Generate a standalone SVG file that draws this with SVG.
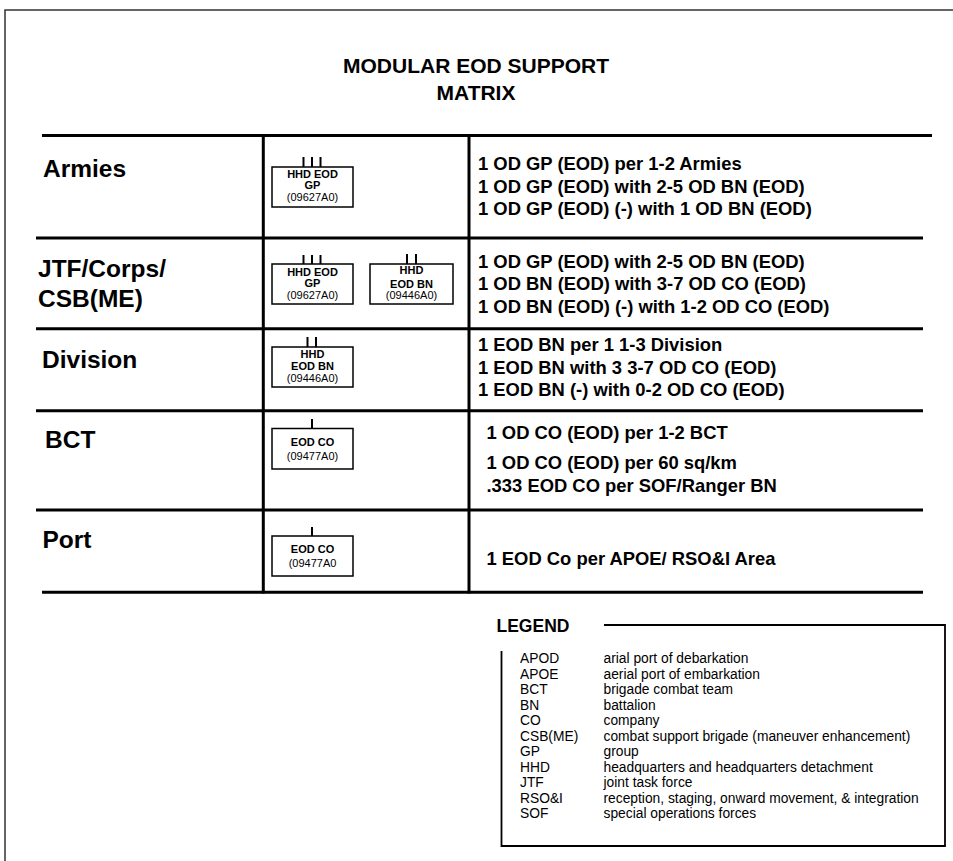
<svg xmlns="http://www.w3.org/2000/svg" width="953" height="861" viewBox="0 0 953 861">
<style>
.title{font-family:"Liberation Sans",Arial,sans-serif;font-weight:bold;font-size:21px;fill:#000;text-anchor:middle}
.row{font-family:"Liberation Sans",Arial,sans-serif;font-weight:bold;font-size:24.5px;fill:#000}
.req{font-family:"Liberation Sans",Arial,sans-serif;font-weight:bold;font-size:18.4px;fill:#000}
.bx{fill:#fff;stroke:#000;stroke-width:1.5}
.tick{stroke:#000;stroke-width:2}
.nb{font-family:"Liberation Sans",Arial,sans-serif;font-weight:bold;font-size:11px;fill:#000;text-anchor:middle}
.nr{font-family:"Liberation Sans",Arial,sans-serif;font-size:11px;fill:#000;text-anchor:middle}
.grid{stroke:#000;stroke-width:3;fill:none}
.leg{font-family:"Liberation Sans",Arial,sans-serif;font-size:13.8px;fill:#000}
.legh{font-family:"Liberation Sans",Arial,sans-serif;font-weight:bold;font-size:17.5px;fill:#000}
</style>
<rect width="953" height="861" fill="#fff"/>
<path d="M5,861 V10 H953" fill="none" stroke="#333" stroke-width="1.5"/>
<g id="title">
<text class="title" x="476" y="73">MODULAR EOD SUPPORT</text>
<text class="title" x="476" y="100">MATRIX</text>
</g>
<g id="table-lines">
<line class="grid" x1="42" y1="135.5" x2="932" y2="135.5" stroke-width="3.5"/>
<line class="grid" x1="36" y1="238" x2="923" y2="238"/>
<line class="grid" x1="36" y1="328.7" x2="923" y2="328.7"/>
<line class="grid" x1="36" y1="410.7" x2="923" y2="410.7"/>
<line class="grid" x1="36" y1="510" x2="923" y2="510"/>
<line class="grid" x1="42" y1="592.2" x2="923" y2="592.2"/>
<line class="grid" x1="263.3" y1="134" x2="263.3" y2="593.5"/>
<line class="grid" x1="469" y1="134" x2="469" y2="593.5"/>
</g>
<g id="row-armies">
<text class="row" x="43" y="177">Armies</text>
<text class="req" x="478" y="170">1 OD GP (EOD) per 1-2 Armies</text>
<text class="req" x="478" y="193">1 OD GP (EOD) with 2-5 OD BN (EOD)</text>
<text class="req" x="478" y="215">1 OD GP (EOD) (-) with 1 OD BN (EOD)</text>
</g>
<g id="node-armies-gp">
<line class="tick" x1="303.5" y1="157" x2="303.5" y2="167"/>
<line class="tick" x1="312" y1="157" x2="312" y2="167"/>
<line class="tick" x1="320.5" y1="157" x2="320.5" y2="167"/>
<rect class="bx" x="272" y="167" width="81" height="40"/>
<text class="nb" x="312.5" y="177.5">HHD EOD</text>
<text class="nb" x="312.5" y="189">GP</text>
<text class="nr" x="312.5" y="201">(09627A0)</text>
</g>
<g id="row-jtf">
<text class="row" x="38" y="277">JTF/Corps/</text>
<text class="row" x="38" y="307">CSB(ME)</text>
<text class="req" x="478" y="268">1 OD GP (EOD) with 2-5 OD BN (EOD)</text>
<text class="req" x="478" y="290">1 OD BN (EOD) with 3-7 OD CO (EOD)</text>
<text class="req" x="478" y="313">1 OD BN (EOD) (-) with 1-2 OD CO (EOD)</text>
</g>
<g id="node-jtf-gp">
<line class="tick" x1="303.5" y1="255" x2="303.5" y2="264"/>
<line class="tick" x1="312" y1="255" x2="312" y2="264"/>
<line class="tick" x1="320.5" y1="255" x2="320.5" y2="264"/>
<rect class="bx" x="272" y="264" width="81" height="40"/>
<text class="nb" x="312.5" y="275.5">HHD EOD</text>
<text class="nb" x="312.5" y="287">GP</text>
<text class="nr" x="312.5" y="298.5">(09627A0)</text>
</g>
<g id="node-jtf-bn">
<line class="tick" x1="407" y1="254" x2="407" y2="264"/>
<line class="tick" x1="416" y1="254" x2="416" y2="264"/>
<rect class="bx" x="370" y="264" width="83" height="40"/>
<text class="nb" x="411.5" y="274">HHD</text>
<text class="nb" x="411.5" y="287.5">EOD BN</text>
<text class="nr" x="411.5" y="299">(09446A0)</text>
</g>
<g id="row-division">
<text class="row" x="42" y="368">Division</text>
<text class="req" x="478" y="351">1 EOD BN per 1 1-3 Division</text>
<text class="req" x="478" y="373.5">1 EOD BN with 3 3-7 OD CO (EOD)</text>
<text class="req" x="478" y="396">1 EOD BN (-) with 0-2 OD CO (EOD)</text>
</g>
<g id="node-division-bn">
<line class="tick" x1="307.5" y1="337" x2="307.5" y2="347"/>
<line class="tick" x1="316" y1="337" x2="316" y2="347"/>
<rect class="bx" x="272" y="347" width="81" height="40"/>
<text class="nb" x="312.5" y="357.5">HHD</text>
<text class="nb" x="312.5" y="370">EOD BN</text>
<text class="nr" x="312.5" y="381.5">(09446A0)</text>
</g>
<g id="row-bct">
<text class="row" x="45" y="448">BCT</text>
<text class="req" x="486.5" y="438.5">1 OD CO (EOD) per 1-2 BCT</text>
<text class="req" x="486.5" y="468.5">1 OD CO (EOD) per 60 sq/km</text>
<text class="req" x="486.5" y="491.5">.333 EOD CO per SOF/Ranger BN</text>
</g>
<g id="node-bct-co">
<line class="tick" x1="312" y1="419" x2="312" y2="428.5"/>
<rect class="bx" x="272" y="428.5" width="81" height="40.5"/>
<text class="nb" x="312.5" y="446">EOD CO</text>
<text class="nr" x="312.5" y="460">(09477A0)</text>
</g>
<g id="row-port">
<text class="row" x="42.5" y="548">Port</text>
<text class="req" x="486.5" y="565">1 EOD Co per APOE/ RSO&amp;I Area</text>
</g>
<g id="node-port-co">
<line class="tick" x1="312" y1="527" x2="312" y2="536"/>
<rect class="bx" x="272" y="536" width="81" height="40"/>
<text class="nb" x="312.5" y="553">EOD CO</text>
<text class="nr" x="312.5" y="566.5">(09477A0</text>
</g>
<g id="legend">
<text class="legh" x="496.5" y="632">LEGEND</text>
<path d="M604,625 H945 V846 H501.5 V651" fill="none" stroke="#000" stroke-width="1.8"/>
<g class="leg">
<text x="520" y="663">APOD</text><text x="603.5" y="663">arial port of debarkation</text>
<text x="520" y="678.5">APOE</text><text x="603.5" y="678.5">aerial port of embarkation</text>
<text x="520" y="694">BCT</text><text x="603.5" y="694">brigade combat team</text>
<text x="520" y="709.5">BN</text><text x="603.5" y="709.5">battalion</text>
<text x="520" y="725">CO</text><text x="603.5" y="725">company</text>
<text x="520" y="740.5">CSB(ME)</text><text x="603.5" y="740.5">combat support brigade (maneuver enhancement)</text>
<text x="520" y="756">GP</text><text x="603.5" y="756">group</text>
<text x="520" y="771.5">HHD</text><text x="603.5" y="771.5">headquarters and headquarters detachment</text>
<text x="520" y="787">JTF</text><text x="603.5" y="787">joint task force</text>
<text x="520" y="802.5">RSO&amp;I</text><text x="603.5" y="802.5">reception, staging, onward movement, &amp; integration</text>
<text x="520" y="818">SOF</text><text x="603.5" y="818">special operations forces</text>
</g>
</g>
</svg>
